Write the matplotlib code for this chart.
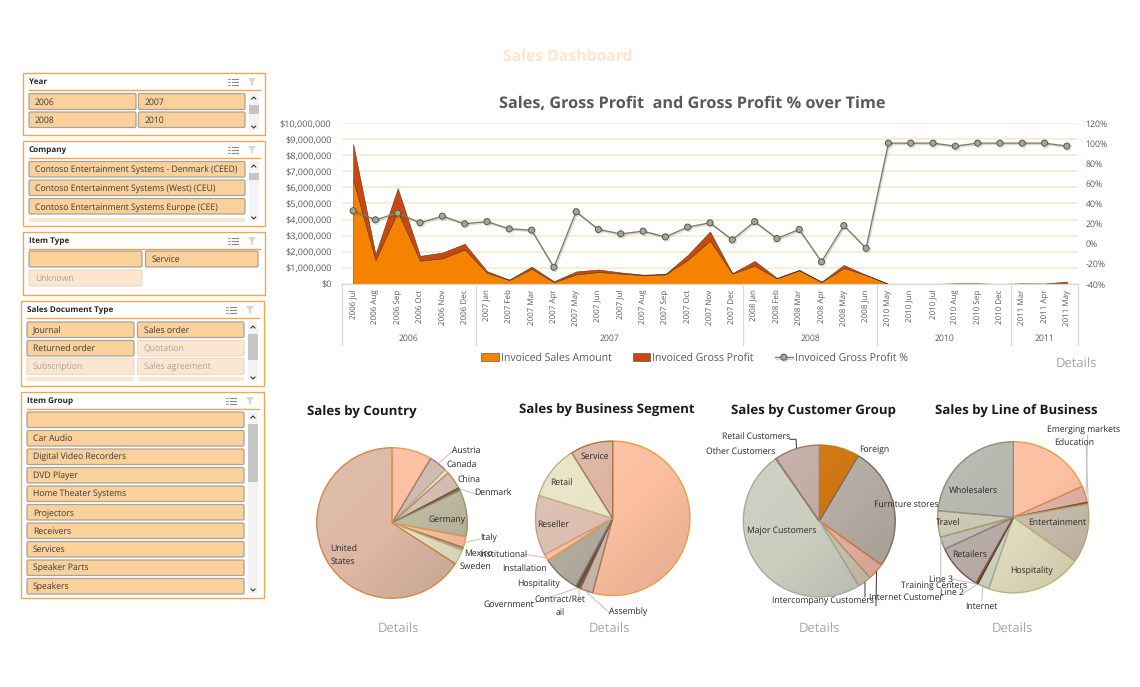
import matplotlib
matplotlib.use('Agg')
import matplotlib.pyplot as plt
import matplotlib.patheffects as pe
import numpy as np
from matplotlib.patches import Circle, FancyBboxPatch, Rectangle, Polygon

plt.rcParams['font.family'] = ['Open Sans', 'DejaVu Sans']
plt.rcParams['text.hinting'] = 'no_hinting'
plt.rcParams['text.hinting_factor'] = 8

W, H = 1140, 687
FONT_GREY = '#595959'

# monthly chart data
months = ['2006 Jul', '2006 Aug', '2006 Sep', '2006 Oct', '2006 Nov', '2006 Dec',
          '2007 Jan', '2007 Feb', '2007 Mar', '2007 Apr', '2007 May', '2007 Jun',
          '2007 Jul', '2007 Aug', '2007 Sep', '2007 Oct', '2007 Nov', '2007 Dec',
          '2008 Jan', '2008 Feb', '2008 Mar', '2008 Apr', '2008 May', '2008 Jun',
          '2010 May', '2010 Jun', '2010 Jul', '2010 Aug', '2010 Sep', '2010 Dec',
          '2011 Mar', '2011 Apr', '2011 May']
sales = [6500000, 1500000, 4500000, 1450000, 1600000, 2150000,
         700000, 250000, 950000, 120000, 600000, 750000,
         650000, 550000, 600000, 1500000, 2700000, 650000,
         1140000, 350000, 850000, 120000, 1000000, 560000,
         0, 0, 0, 10000, 10000, 0,
         10000, 10000, 20000]
gross_profit = [2200000, 350000, 1450000, 300000, 350000, 350000,
                100000, 20000, 130000, 50000, 180000, 150000,
                70000, 30000, 20000, 300000, 560000, 20000,
                290000, 30000, 30000, 30000, 180000, 0,
                0, 0, 0, 30000, 30000, 0,
                30000, 20000, 130000]
gross_pct = [32.8, 23.8, 30.4, 20.8, 27.4, 19.8,
             22, 14.8, 13.5, -23.4, 31.8, 14.2,
             9.8, 12.5, 6.8, 16.5, 20.8, 3.9,
             22, 5.2, 14.2, -18, 18, -4.5,
             100, 100, 100, 97, 100, 100,
             100, 100, 97]
years = ['2006', '2007', '2008', '2010', '2011']
year_counts = [6, 12, 6, 6, 3]

# pie data, clockwise from 12 o'clock
country_labels = ['', 'Austria', 'Canada', 'China', 'Denmark', 'Germany',
                  'Italy', 'Mexico', 'Sweden', 'United\nStates']
country_values = [8.6, 3.9, 0.9, 3.9, 0.6, 10.0, 2.4, 0.6, 3.2, 65.9]
segment_labels = ['', 'Assembly', 'Contract/Ret\nail', 'Government', 'Hospitality',
                  'Installation', 'Institutional', 'Reseller', 'Retail', 'Service']
segment_values = [54.2, 2.7, 0.4, 0.3, 0.3, 8.0, 1.3, 12.6, 11.3, 8.9]
customer_labels = ['Foreign', 'Furniture stores', 'Internet Customer',
                   'Intercompany Customers', 'Major Customers', 'Other Customers',
                   'Retail Customers']
customer_values = [8.6, 26.2, 3.6, 2.9, 49.0, 0.1, 9.6]
line_labels = ['', 'Emerging markets', 'Education', 'Entertainment', 'Hospitality',
               'Internet', 'Line 2', 'Line 3', 'Retailers', 'Training Centers',
               'Travel', 'Wholesalers']
line_values = [18.3, 3.5, 0.4, 12.6, 20.5, 2.5, 0.2, 0.2, 9.9, 2.7, 5.6, 23.6]

# slicer contents: (text, active)
year_items = [('2006', True), ('2007', True), ('2008', True), ('2010', True)]
company_items = [('Contoso Entertainment Systems - Denmark (CEED)', True),
                 ('Contoso Entertainment Systems (West) (CEU)', True),
                 ('Contoso Entertainment Systems Europe (CEE)', True)]
item_type_items = [('', True), ('Service', True), ('Unknown', False)]
doc_type_items = [('Journal', True), ('Sales order', True), ('Returned order', True),
                  ('Quotation', False), ('Subscription', False), ('Sales agreement', False)]
item_group_items = ['', 'Car Audio', 'Digital Video Recorders', 'DVD Player',
                    'Home Theater Systems', 'Projectors', 'Receivers', 'Services',
                    'Speaker Parts', 'Speakers']


def px_axes(fig, left, top, right, bottom, **kwargs):
    """Axes placed by pixel box, y measured from the top of the image."""
    return fig.add_axes([left / W, 1 - bottom / H, (right - left) / W, (bottom - top) / H], **kwargs)


def draw_button(ov, x0, y0, x1, y1, text, active=True):
    face = '#FAD09B' if active else '#FDE6CF'
    edge = '#A8A298' if active else '#E6DCCF'
    ov.add_patch(FancyBboxPatch((x0, y0), x1 - x0, y1 - y0, boxstyle='round,pad=0,rounding_size=1.5',
                                fc=face, ec=edge, lw=0.9))
    ov.text(x0 + 6, (y0 + y1) / 2 + 0.8, text, fontsize=6.25, va='center', ha='left',
            color='#3A3A3A' if active else '#A9A29C')


def draw_slicer(ov, x0, y0, x1, y1, title):
    ov.add_patch(Rectangle((x0, y0), x1 - x0, y1 - y0, fc='white', ec='#F4A64E', lw=1.0))
    ov.text(x0 + 6, y0 + 9.3, title, fontsize=5.9, fontweight='bold', va='center', color='#262626')
    ov.plot([x0 + 6, x1 - 5], [y0 + 16.5, y0 + 16.5], color='#F4A64E', lw=1.0)
    # multi select and clear filter icons
    for dy in (5.5, 8.5, 11.5):
        ov.plot([x0 + 209, x0 + 215], [y0 + dy, y0 + dy], color='#8A8A8A', lw=0.8)
        ov.plot([x0 + 205, x0 + 207], [y0 + dy, y0 + dy], color='#A0A0A0', lw=0.8)
    ov.add_patch(Polygon([(x0 + 225, y0 + 5), (x0 + 233, y0 + 5), (x0 + 230, y0 + 9), (x0 + 230, y0 + 13),
                          (x0 + 228, y0 + 12), (x0 + 228, y0 + 9)], fc='#D6D6D6', ec='none'))


def draw_scrollbar(ov, x0, y0, x1, y1, th0, th1):
    ov.add_patch(Rectangle((x0, y0), x1 - x0, y1 - y0, fc='#F3F3F3', ec='none'))
    ov.add_patch(Rectangle((x0, th0), x1 - x0, th1 - th0, fc='#C6C6C6', ec='none'))
    xm = (x0 + x1) / 2
    ov.plot([xm - 2, xm, xm + 2], [y0 + 6, y0 + 4, y0 + 6], color='#333333', lw=0.8)
    ov.plot([xm - 2, xm, xm + 2], [y1 - 4, y1 - 2, y1 - 4], color='#333333', lw=0.8)


def draw_slicers(ov):
    draw_slicer(ov, 23, 73, 265, 135, 'Year')
    rows = [(93.5, 109.5), (112, 127.5)]
    for i, (text, active) in enumerate(year_items):
        r, c = divmod(i, 2)
        x0, x1 = (29, 136) if c == 0 else (138.5, 245)
        draw_button(ov, x0, rows[r][0], x1, rows[r][1], text, active)
    draw_scrollbar(ov, 248.5, 93, 259, 130, 105, 114)

    draw_slicer(ov, 23, 141, 265, 226, 'Company')
    for i, (text, active) in enumerate(company_items):
        draw_button(ov, 29, 161.5 + i * 18.5, 245, 177 + i * 18.5, text, active)
    ov.add_patch(Rectangle((29, 217.5), 216, 4, fc='#FDE6CF', ec='none'))
    draw_scrollbar(ov, 248.5, 161, 259, 221, 173, 180)

    draw_slicer(ov, 23, 232, 265, 295, 'Item Type')
    pos = [(29, 251, 142, 267), (145.5, 251, 258, 267), (29, 270, 142, 286)]
    for (x0, y0, x1, y1), (text, active) in zip(pos, item_type_items):
        draw_button(ov, x0, y0, x1, y1, text, active)

    draw_slicer(ov, 21, 301, 264, 386, 'Sales Document Type')
    rows = [(322, 337.5), (340.5, 356), (358.5, 374.5)]
    for i, (text, active) in enumerate(doc_type_items):
        r, c = divmod(i, 2)
        x0, x1 = (27, 134) if c == 0 else (137.5, 244)
        draw_button(ov, x0, rows[r][0], x1, rows[r][1], text, active)
    ov.add_patch(Rectangle((27, 377), 107, 4, fc='#FDE6CF', ec='none'))
    ov.add_patch(Rectangle((137.5, 377), 106.5, 4, fc='#FDE6CF', ec='none'))
    draw_scrollbar(ov, 248, 322, 258, 381, 334, 360)

    draw_slicer(ov, 21, 392, 264, 598, 'Item Group')
    for i, text in enumerate(item_group_items):
        draw_button(ov, 27, 412 + i * 18.5, 244, 427.5 + i * 18.5, text)
    draw_scrollbar(ov, 248, 412, 258, 593, 424, 482)


def draw_main_chart(fig):
    ax = px_axes(fig, 342, 123, 1078, 284)
    x = list(range(len(months)))
    polys = ax.stackplot(x, sales, gross_profit, colors=['#F58300', '#C9480F'],
                         edgecolor='#5A3A1E', linewidth=0.4, zorder=2)
    ax.set_xlim(-0.5, len(months) - 0.5)
    ax.set_ylim(0, 10000000)
    ax.set_yticks(range(0, 10000001, 1000000))
    ax.set_yticklabels([f'${v:,}' for v in range(0, 10000001, 1000000)])
    ax.set_xticks(x)
    ax.set_xticklabels(months, rotation=90)
    ax.tick_params(axis='both', length=0, labelcolor=FONT_GREY)
    ax.tick_params(axis='y', labelsize=6.6, pad=7.5)
    ax.tick_params(axis='x', labelsize=5.8, pad=4)
    ax.grid(axis='y', color='#FDE6CE', lw=1.1, zorder=1)
    ax.set_axisbelow(True)
    for name in ('top', 'left', 'right'):
        ax.spines[name].set_visible(False)
    ax.spines['bottom'].set_color('#D9D9D9')

    # year band under the month labels
    trans = ax.get_xaxis_transform()
    start = -0.5
    ax.plot([start, start], [0, -0.379], transform=trans, color='#D9D9D9', lw=0.9, clip_on=False)
    for year, count in zip(years, year_counts):
        end = start + count
        ax.plot([end, end], [0, -0.379], transform=trans, color='#D9D9D9', lw=0.9, clip_on=False)
        ax.text((start + end) / 2, -0.338, year, transform=trans, ha='center', va='center',
                fontsize=6.2, color=FONT_GREY)
        start = end

    ax2 = ax.twinx()
    line, = ax2.plot(x, gross_pct, color='#7F7F68', lw=1.0, marker='o', ms=4.4,
                     mfc='#A2A88F', mec='#55574A', mew=0.7, zorder=5)
    line.set_path_effects([pe.SimpleLineShadow(offset=(0.8, -1), alpha=0.15), pe.Normal()])
    ax2.set_ylim(-40, 120)
    ax2.set_yticks(range(-40, 121, 20))
    ax2.set_yticklabels([f'{v}%' for v in range(-40, 121, 20)])
    ax2.tick_params(axis='y', length=0, labelsize=6.3, labelcolor=FONT_GREY, pad=5.5)
    for spine in ax2.spines.values():
        spine.set_visible(False)

    fig.legend([polys[0], polys[1], line],
               ['Invoiced Sales Amount', 'Invoiced Gross Profit', 'Invoiced Gross Profit %'],
               loc='center', bbox_to_anchor=(694.5 / W, 1 - 358 / H), ncol=3, frameon=False,
               fontsize=7.6, labelcolor=FONT_GREY, handlelength=1.65, handleheight=0.7,
               handletextpad=0.2, columnspacing=2.0)


def draw_pie(fig, ov, cx, cy, r, values, labels, colors, edges, label_pos, leaders):
    ax = px_axes(fig, cx - r, cy - r, cx + r, cy + r)
    wedges, _ = ax.pie(values, startangle=90, counterclock=False, radius=1, colors=colors,
                       wedgeprops={'linewidth': 1.0})
    for wedge, edge in zip(wedges, edges):
        wedge.set_edgecolor(edge)

    # soft sheen over the wedges, lighter top left and darker bottom right
    grid = np.linspace(0, 1, 64)
    shade = (grid[None, :] + grid[:, None]) / 2
    sheen = np.zeros((64, 64, 4))
    sheen[..., :3] = (shade < 0.5)[..., None]
    sheen[..., 3] = np.abs(shade - 0.5) * 0.22
    img = ax.imshow(sheen, extent=(-1, 1, -1, 1), origin='upper', zorder=3)
    img.set_clip_path(Circle((0, 0), 0.99, transform=ax.transData))

    ax.set_xlim(-1.01, 1.01)
    ax.set_ylim(-1.01, 1.01)

    for label, (lx, ly) in zip(labels, label_pos):
        if label:
            ov.text(lx, ly + 0.8, label, fontsize=6.2, ha='center', va='center', color='#262626',
                    linespacing=1.6, zorder=6)
    # leader lines start on the rim of their wedge
    for idx, points, color in leaders:
        wedge = wedges[idx]
        mid = np.radians((wedge.theta1 + wedge.theta2) / 2)
        xs = [cx + r * np.cos(mid)] + [p[0] for p in points]
        ys = [cy - r * np.sin(mid)] + [p[1] for p in points]
        ov.plot(xs, ys, color=color, lw=0.7, zorder=5)


def main():
    fig = plt.figure(figsize=(W / 100, H / 100), dpi=100, facecolor='white')

    draw_main_chart(fig)

    # pixel space overlay for slicers, titles and pie labels
    ov = fig.add_axes([0, 0, 1, 1], zorder=10)
    ov.set_xlim(0, W)
    ov.set_ylim(H, 0)
    ov.axis('off')
    ov.patch.set_alpha(0)

    ov.text(568, 57, 'Sales Dashboard', fontsize=11.3, fontweight='bold', ha='center', va='center', color='#FDE6CE')
    ov.text(692.5, 104, 'Sales, Gross Profit  and Gross Profit % over Time', fontsize=11.7, fontweight='bold',
            ha='center', va='center', color='#595959')
    ov.text(1076.7, 364.7, 'Details', fontsize=9.4, ha='center', va='center', color='#A6A6A6')

    draw_slicers(ov)

    for text, tx, ty in [('Sales by Country', 361.7, 412.5), ('Sales by Business Segment', 606.7, 410.8),
                         ('Sales by Customer Group', 813, 411.8), ('Sales by Line of Business', 1016, 411.8)]:
        ov.text(tx, ty, text, fontsize=9.5, fontweight='bold', ha='center', va='center', color='#1A1A1A')
    for dx in (398.7, 609, 819.3, 1012.7):
        ov.text(dx, 629.7, 'Details', fontsize=9.4, ha='center', va='center', color='#A6A6A6')

    draw_pie(fig, ov, 392, 523, 76, country_values, country_labels,
             ['#FDC0A2', '#CFBBB3', '#E9E5C6', '#D6BFB2', '#8C7262', '#BFBCA3', '#FCC1A2', '#C6A99B', '#E7E4C7', '#DDB7A4'],
             ['#EE9B45', '#A07E62', '#BDB27A', '#A88F78', '#6F5240', '#9A8F68', '#EE9B45', '#A07E62', '#C6B97F', '#CF8A45'],
             [(0, 0), (466, 450), (461.7, 464), (469, 478.3), (492.7, 491.7), (446.7, 518.3),
              (488.3, 537.7), (478.7, 552.3), (475.3, 565.7), (343.3, 554.3)],
             [(1, [(452.7, 451)], '#BFBFBF'), (4, [(475.7, 494)], '#BFBFBF'), (6, [(480, 539)], '#BFBFBF')])

    draw_pie(fig, ov, 612.7, 518.3, 78, segment_values, segment_labels,
             ['#FCBFA0', '#CDB6AC', '#B69F8C', '#8C7262', '#8C7262', '#B0A99E', '#FCC1A2', '#DDBDB0', '#E8E4C6', '#DCB3A0'],
             ['#EE9B45', '#A07E62', '#7E5A3C', '#6F5240', '#6F5240', '#7E7668', '#EE9B45', '#BFA08C', '#BDB27A', '#A87446'],
             [(0, 0), (627.7, 611.7), (560, 605.7), (508.3, 604), (538.3, 583.3), (524, 567.7),
              (503.3, 554), (552.7, 523.3), (561.7, 482), (595, 456)],
             [(1, [(610, 613.3)], '#BFBFBF'), (3, [(531.7, 603.3)], '#BFBFBF'),
              (2, [(579, 598)], '#BFBFBF'), (6, [(525, 554.3)], '#BFBFBF')])

    draw_pie(fig, ov, 819.3, 521, 76.7, customer_values, customer_labels,
             ['#CF740F', '#B5ADA3', '#E7B2A2', '#CFC3B0', '#C9CEBF', '#8C7262', '#C1ABA5'],
             ['#CF740F', '#7E6A58', '#E5793A', '#A89C80', '#A8AB98', '#7E4A28', '#9A7C70'],
             [(874, 448.7), (906.7, 504), (905.7, 596.7), (822.7, 599.3), (781.7, 530),
              (740.7, 451), (756, 436)],
             [(6, [(796, 439.3), (790, 439.3)], '#333333'), (3, [(865, 596.7)], '#333333'),
              (2, [(876, 605.7)], '#333333')])

    draw_pie(fig, ov, 1013.3, 517.3, 76.3, line_values, line_labels,
             ['#FCC0A2', '#E3B3A5', '#8C6242', '#CBBFAE', '#E2DDBD', '#CDD2C4', '#5A3214', '#7A4A24', '#B8AAA6', '#BEBBB5', '#CBC7B2', '#B6B5AD'],
             ['#EE9B45', '#D98A5A', '#7E5A3C', '#B8A278', '#BDB27A', '#A8AB98', '#5A3214', '#7A4A24', '#6F5A4C', '#8C8474', '#A49A68', '#8A8C80'],
             [(0, 0), (1083.3, 429.7), (1074.3, 442), (1057.7, 521.7), (1032, 571), (981.7, 606),
              (952.3, 592), (940.7, 578.7), (969.3, 553.7), (934.3, 584.7), (947.7, 521.7), (973.7, 490)],
             [(1, [(1087.7, 435)], '#BFBFBF'), (2, [(1086, 445)], '#BFBFBF'), (5, [(981.7, 601)], '#BFBFBF'),
              (6, [(963.3, 593.3)], '#BFBFBF'), (7, [(951.7, 579)], '#BFBFBF'),
              (9, [(940.7, 538), (940.7, 581)], '#BFBFBF')])

    fig.savefig('out.png', dpi=100)


if __name__ == "__main__":
    main()
